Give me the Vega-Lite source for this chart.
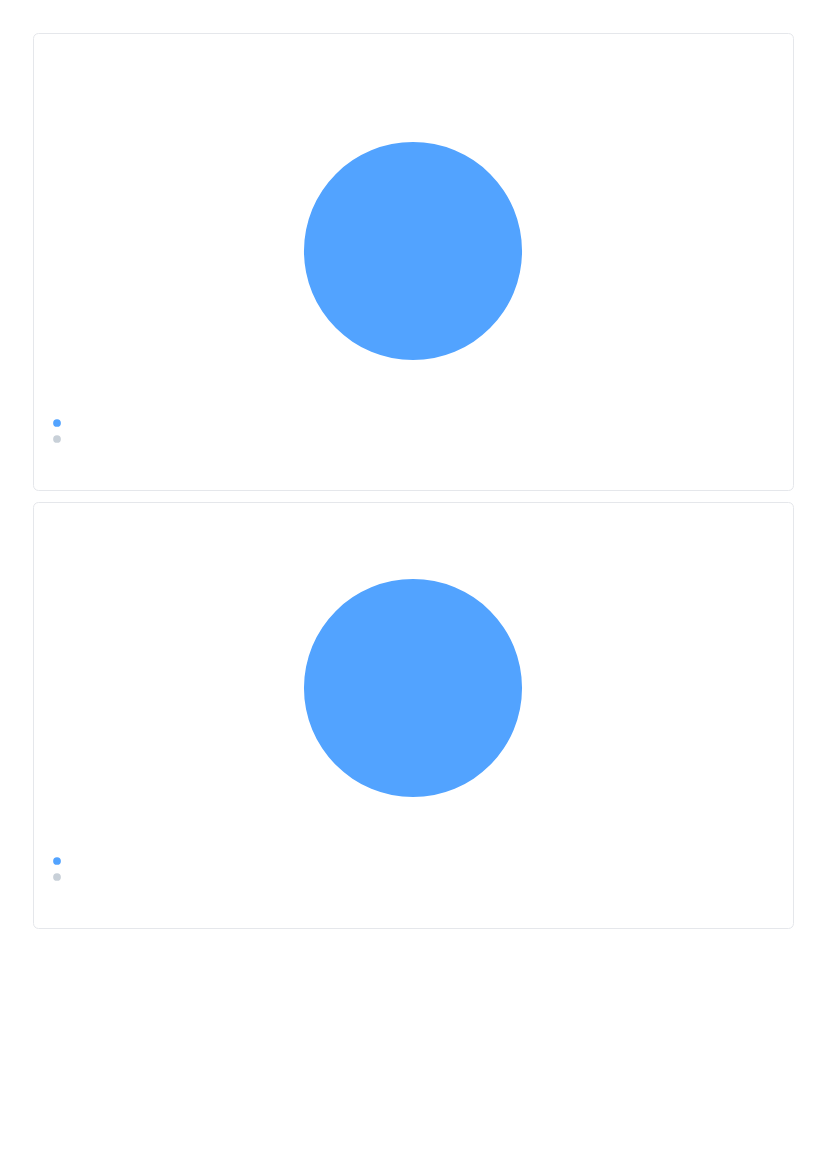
{
  "$schema": "https://vega.github.io/schema/vega-lite/v6.json",
  "padding": {"left": 32, "top": 32, "right": 33, "bottom": 5},
  "background": "white",
  "config": {
    "view": {"stroke": "#e5e7eb", "strokeWidth": 1, "cornerRadius": 5},
    "concat": {"spacing": 10}
  },
  "datasets": {
    "slices": [
      {"category": "Series A", "value": 1},
      {"category": "Series B", "value": 0}
    ]
  },
  "vconcat": [
    {
      "width": 760,
      "height": 457,
      "view": {"stroke": "#e5e7eb", "strokeWidth": 1, "cornerRadius": 5},
      "data": {"name": "slices"},
      "mark": {"type": "arc", "radius": 109, "yOffset": -10.5, "stroke": null},
      "encoding": {
        "theta": {"field": "value", "type": "quantitative", "stack": true},
        "color": {
          "field": "category",
          "type": "nominal",
          "scale": {"domain": ["Series A", "Series B"], "range": ["#52a3ff", "#c8d0d8"]},
          "legend": {"title": null, "orient": "none", "legendX": 18, "legendY": 384, "labelExpr": "''", "symbolType": "circle", "symbolSize": 60, "labelFontSize": 12, "rowPadding": 4, "symbolStrokeWidth": 0}
        }
      }
    },
    {
      "width": 760,
      "height": 426,
      "view": {"stroke": "#e5e7eb", "strokeWidth": 1, "cornerRadius": 5},
      "data": {"name": "slices"},
      "mark": {"type": "arc", "radius": 109, "yOffset": -27, "stroke": null},
      "encoding": {
        "theta": {"field": "value", "type": "quantitative", "stack": true},
        "color": {
          "field": "category",
          "type": "nominal",
          "scale": {"domain": ["Series A", "Series B"], "range": ["#52a3ff", "#c8d0d8"]},
          "legend": {"title": null, "orient": "none", "legendX": 18, "legendY": 353, "labelExpr": "''", "symbolType": "circle", "symbolSize": 60, "labelFontSize": 12, "rowPadding": 4, "symbolStrokeWidth": 0}
        }
      }
    }
  ],
  "resolve": {"legend": {"color": "independent"}, "scale": {"color": "independent", "theta": "independent"}}
}
